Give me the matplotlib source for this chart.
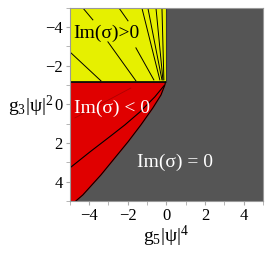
import matplotlib
matplotlib.use('Agg')
import matplotlib.pyplot as plt
import numpy as np

plt.rcParams['font.family'] = 'Liberation Serif'
plt.rcParams['mathtext.fontset'] = 'custom'
plt.rcParams['mathtext.rm'] = 'Liberation Serif'
plt.rcParams['mathtext.it'] = 'Liberation Serif'

# boundary Im(sigma)=0 between red and grey
bound_y = [-1.15, -1.01, -0.49, 0.18, 1.06, 1.94, 2.77, 3.65, 4.69, 5.0]
bound_x = [-0.05, -0.08, -0.28, -0.70, -1.32, -1.99, -2.67, -3.39, -4.33, -4.69]

# yellow region: x from -5 to yellow_right, y from -5 to yellow_bottom
yellow_right = 0.0
yellow_bottom = -1.15

# contour segments inside the yellow region (x0, y0, x1, y1)
yellow_lines = [
    (-4.33, -5.00, -3.81, -4.38),
    (-5.00, -2.72, -3.39, -1.22),
    (-2.46, -5.00, -1.99, -4.33),
    (-3.03, -3.24, -1.58, -1.22),
    (-1.58, -2.93, -0.65, -1.27),
    (-1.27, -5.00, -0.34, -1.27),
    (-0.96, -5.00, -0.23, -1.27),
    (-0.54, -5.00, -0.18, -1.27),
    (-0.23, -5.00, -0.13, -1.27),
]

# contour curve inside the red region
red_curve_x = [-0.13, -0.60, -1.37, -2.15, -2.88, -3.96, -5.0]
red_curve_y = [-0.96, -0.39, 0.39, 1.06, 1.63, 2.46, 3.29]
faint_x = [-1.84, -4.74]
faint_y = [-0.85, 0.70]

ticks = [-4, -2, 0, 2, 4]

fig = plt.figure(figsize=(2.73, 2.63), dpi=100)
ax = fig.add_axes([0.256, 0.236, 0.707, 0.734])
ax.set_facecolor('#555555')

# red region
ax.fill_betweenx(bound_y, -5, bound_x, color='#e00000', lw=0)
ax.plot(bound_x, bound_y, color='black', lw=0.8)

# yellow region
ax.fill_between([-5, yellow_right], -5, yellow_bottom, color='#e6f000', lw=0)
ax.plot([-5, yellow_right], [yellow_bottom, yellow_bottom], color='black', lw=1.2)
ax.plot([yellow_right, yellow_right], [-5, yellow_bottom], color='#333333', lw=0.8)

for x0, y0, x1, y1 in yellow_lines:
    ax.plot([x0, x1], [y0, y1], color='black', lw=0.7)

ax.plot(red_curve_x, red_curve_y, color='black', lw=0.8)
ax.plot(faint_x, faint_y, color='#b00000', lw=0.6)

ax.text(-4.85, -3.7, 'Im(σ)>0', fontsize=14, color='black',
        va='center', ha='left')
ax.text(-4.8, 0.2, 'Im(σ) < 0', fontsize=14, color='white',
        va='center', ha='left')
ax.text(-1.5, 3.0, 'Im(σ) = 0', fontsize=14, color='white',
        va='center', ha='left')

ax.set_xlim(-5, 5)
ax.set_ylim(5, -5)
ax.set_xticks(ticks)
ax.set_yticks(ticks)
ax.set_xticks(range(-5, 6), minor=True)
ax.set_yticks(range(-5, 6), minor=True)
ax.tick_params(which='both', direction='out', length=3, color='#aaaaaa',
               labelsize=12, pad=2)
for s in ax.spines.values():
    s.set_color('#999999')
    s.set_linewidth(0.8)

ax.set_xlabel(r'g$_5$|$\psi$|$^4$', fontsize=14, labelpad=0)
ax.set_ylabel(r'g$_3$|$\psi$|$^2$', fontsize=14, rotation=0, labelpad=0,
              va='center', ha='right')
ax.yaxis.set_label_coords(-0.085, 0.49)

fig.savefig('out.png', dpi=100)
